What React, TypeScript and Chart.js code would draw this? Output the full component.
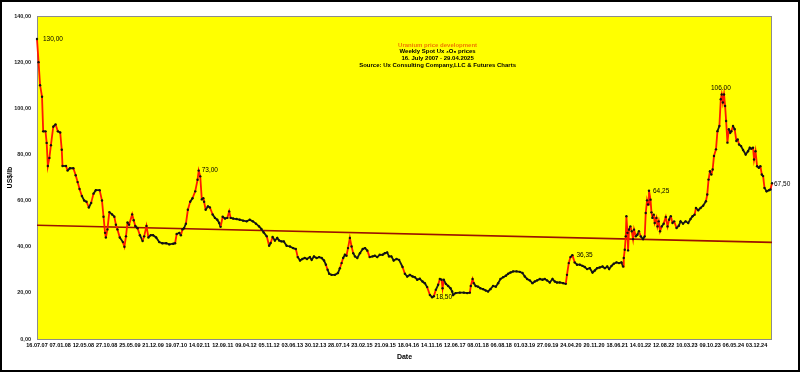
import React, { useEffect, useRef } from "react";
import { Chart, registerables } from "chart.js";

Chart.register(...registerables);

// Week index (x) and price in US$/lb (y)
const weekIdx = [
  0, 2, 4, 6.5, 8, 11, 12.5, 14, 16, 18, 21, 24, 27, 30, 32, 33, 37.5, 39.5, 42.5, 47, 50, 52.5, 55, 58, 61, 64, 67, 70, 73, 76, 81, 84, 86, 88, 89, 91, 93.5, 97, 100, 102, 104, 107, 111, 113, 115, 117, 119, 123, 125, 127, 130, 133, 136.5, 138.5, 141.5, 144, 147, 150, 154, 158, 162, 167, 171, 176, 178.5, 180.5, 184, 186, 188, 190, 192.5, 195, 198, 201, 204.5, 207.5, 209, 211, 213, 215, 216, 218, 221, 223.5, 227, 230, 233, 235.5, 237.3, 240, 243, 246, 248.4, 250.3, 253.6, 258, 262, 266.5, 271, 275, 279, 283, 287, 290, 293, 297, 300, 302, 304.5, 307.5, 310.5, 313, 316, 319, 322.6, 327, 331, 334.6, 337, 340, 343, 346, 349, 352.7, 355, 358, 361.4, 364.7, 368, 371, 373.4, 375.6, 377.6, 380.7, 385, 389, 391.5, 393.7, 395.7, 398, 400, 402, 404.4, 406.6, 408.7, 411, 414, 417.4, 421, 424, 427, 430, 433.7, 436.7, 439.7, 443, 446.7, 449.6, 452.6, 455, 458, 461, 464.7, 468, 472.5, 475.5, 478.5, 482, 485.4, 488.4, 491.4, 494.8, 498.3, 501.3, 504.3, 507.8, 510.7, 512.9, 515.5, 518.5, 520.7, 522.9, 524.2, 525.8, 528.4, 531.4, 534.5, 536.6, 537.9, 541, 546.5, 551.7, 556, 559.5, 560.7, 563, 564.6, 567, 570, 573, 576.6, 580, 583, 586, 589.5, 593, 596, 599, 602.5, 606, 609, 612, 615.4, 619.8, 624, 627.5, 630.5, 633.5, 637, 640.4, 643.4, 646.4, 650, 653.4, 656.3, 659.3, 662.8, 666.3, 669.3, 672, 675.7, 680, 683.5, 685, 687.3, 689.5, 692, 695, 698, 701.6, 705, 708, 711, 714.5, 718, 721, 724, 727.4, 731, 734, 737, 739.5, 742.6, 745.5, 749, 752.3, 755.4, 757.5, 758.4, 759.7, 761, 761.8, 763.2, 764, 765.2, 767, 768.7, 770.4, 771.7, 774, 776, 778, 780.4, 783.3, 785.5, 786.8, 788.5, 789.8, 791, 793, 794.2, 795.5, 797.2, 798.4, 800.6, 802, 803.6, 805.3, 807.5, 810, 812.7, 815, 817, 819.2, 821.4, 823.5, 826.6, 829.6, 831.8, 835, 838.3, 841.7, 844.7, 847.3, 850, 851.7, 854.6, 857.7, 861, 864.6, 866.3, 868, 869.8, 871.6, 873.3, 875, 877.6, 879.5, 882, 883.8, 885, 886.5, 888, 889.4, 890.7, 892.4, 894.2, 896, 897.5, 899.6, 901.8, 904, 905.7, 907.4, 910, 912.6, 916, 919, 921.3, 923.4, 925.5, 926.8, 928.7, 930.7, 933, 935, 936.8, 938.5, 940.3, 943, 946, 948, 950
];
const price = [
  130, 120, 110, 105, 90, 90, 85, 75, 78.5, 84, 92, 93, 90, 89.5, 82, 75, 75, 73, 74, 74, 71, 68, 65, 62, 60, 59.5, 57, 59, 63, 64.5, 64.5, 60, 53, 46, 44, 47.5, 55, 54, 53, 49.5, 47.5, 44, 42, 40, 44.5, 50.5, 49.5, 54, 51.5, 49, 48, 45, 42.5, 44.5, 49, 44, 45, 45, 44, 42, 41.5, 41.5, 41, 41.3, 41.5, 45.5, 46, 45, 47.5, 48, 50, 56, 59.5, 61, 64, 69, 73, 70.5, 60.5, 61, 59.5, 56, 57.5, 57, 54, 52.5, 51.7, 50.3, 48.6, 53, 52.2, 52.5, 55.3, 52.5, 52.2, 52, 51.7, 51.3, 51, 51.7, 51, 50, 48.8, 47.7, 46.2, 44.5, 40.4, 41.6, 44.2, 42.7, 43.8, 42.7, 42.3, 42.3, 40.4, 40.1, 39.4, 39, 35.5, 34, 34.7, 35.1, 34.7, 35.5, 34.3, 35.8, 35.1, 35.5, 35.1, 34, 32.2, 30, 28.3, 27.8, 27.8, 28.6, 30.7, 32.9, 35.1, 36.5, 36.1, 39.4, 43.8, 40.1, 37.2, 35.8, 35.1, 37.2, 39, 39.4, 38.3, 35.5, 35.8, 36.1, 35.5, 36.5, 36.5, 37.2, 37.5, 35.8, 35.8, 34, 34.7, 34.3, 31.2, 28.3, 27.1, 27.8, 27.1, 26.8, 25.7, 26.1, 24.9, 24.2, 22.5, 19.1, 18.1, 18.5, 21.3, 23.5, 26, 25.7, 22, 25.7, 23.9, 23, 22, 20.6, 19.1, 19.9, 20.1, 20.1, 19.9, 20.1, 23, 26, 24.2, 23, 22.7, 22, 21.6, 21, 20.6, 21.6, 23, 22.7, 24.2, 26, 26.8, 27.4, 28.3, 28.8, 29.3, 29.3, 29.1, 28.6, 27.1, 26, 25.4, 24.2, 24.9, 25.4, 26, 25.7, 26, 25.4, 24.5, 26, 24.9, 24.5, 24.5, 24.2, 23.9, 27.8, 32.9, 35.5, 36.35, 33.2, 32.2, 32.2, 31.7, 31.2, 30.3, 30.7, 28.8, 29.7, 30.7, 31, 31.4, 30.7, 31.4, 30.3, 31.7, 32.6, 33.2, 32.9, 33.2, 31.4, 35.1, 38.7, 44.5, 53.2, 46, 38.4, 47.4, 48.8, 46.7, 43.3, 47.4, 44.5, 45.2, 46.7, 44.5, 43.3, 44.5, 54.6, 60.1, 58.3, 64.25, 60.4, 54.9, 52.5, 53.9, 50.3, 52.5, 48.8, 51, 46.7, 48.8, 50, 52.9, 48.8, 51.7, 53.2, 50.3, 51, 48.1, 49.1, 51, 50, 51, 50.3, 52, 53.2, 53.9, 56.8, 55.8, 56.8, 57.8, 59.7, 62.6, 69.1, 72.7, 71.3, 73.5, 79.3, 82.2, 90.1, 92.3, 103.9, 106, 102.5, 106, 101, 94.5, 85.1, 90.9, 89.4, 90.1, 92.3, 90.9, 85.8, 86.5, 84.3, 83.6, 81.9, 80, 81.4, 82.9, 82.5, 82.9, 77.8, 81.4, 74.9, 74.2, 74.9, 71.3, 70.6, 65.5, 64, 64.5, 64.8, 67.5
];

// Linear trend line end points
const trendIdx = [0, 950];
const trendVal = [49.3, 41.9];

// Category tick labels (every 30 weeks)
const tickLabels = [
  "16.07.07", "07.01.08", "12.05.08", "27.10.08", "25.05.09", "21.12.09", "19.07.10", "14.02.11",
  "12.09.11", "09.04.12", "05.11.12", "03.06.13", "30.12.13", "28.07.14", "23.02.15", "21.09.15",
  "18.04.16", "14.11.16", "12.06.17", "08.01.18", "06.08.18", "01.03.19", "27.09.19", "24.04.20",
  "20.11.20", "18.06.21", "14.01.22", "12.08.22", "10.03.23", "09.10.23", "06.05.24", "03.12.24"
];
const tickStep = 30;

// Value annotations
const annoIdx = [0, 209, 512.9, 692, 791, 886.5, 950];
const annoVal = [130, 73, 18.5, 36.35, 64.25, 106, 67.5];
const annoText = ["130,00", "73,00", "18,50", "36,35", "64,25", "106.00", "67,50"];
const annoDx = [6, 3, 2, 4, 4, -2, 2];
const annoDy = [0, 0, 1, 0, 0, -6, 1];
const annoAlign = ["left", "left", "left", "left", "left", "center", "left"];

const titleLines = [
  "Uranium price development",
  "Weekly Spot Ux \u2083O\u2088 prices",
  "16. July 2007 - 29.04.2025",
  "Source: Ux Consulting Company,LLC & Futures Charts",
];
const titleColors = ["#F07800", "#000000", "#000000", "#000000"];

const FONT = "'Liberation Sans', Arial, sans-serif";

const decorPlugin = {
  id: "decor",
  beforeDatasetsDraw(chart: any) {
    const { ctx, chartArea } = chart;
    ctx.save();
    ctx.fillStyle = "#FFFF00";
    ctx.fillRect(chartArea.left, chartArea.top, chartArea.right - chartArea.left, chartArea.bottom - chartArea.top);
    ctx.strokeStyle = "#8c8c8c";
    ctx.lineWidth = 1;
    ctx.strokeRect(chartArea.left + 0.5, chartArea.top + 0.5, chartArea.right - chartArea.left - 1, chartArea.bottom - chartArea.top);
    ctx.font = `bold 6px ${FONT}`;
    ctx.textAlign = "center";
    ctx.textBaseline = "middle";
    const cx = chartArea.left + (chartArea.right - chartArea.left) * 0.545;
    titleLines.forEach((t, i) => {
      ctx.fillStyle = titleColors[i];
      ctx.fillText(t, cx, 45 + i * 6.7);
    });
    ctx.restore();
  },
  afterDraw(chart: any) {
    const { ctx } = chart;
    const xs = chart.scales.x;
    const ys = chart.scales.y;
    ctx.save();
    ctx.font = `6.5px ${FONT}`;
    ctx.fillStyle = "#000";
    ctx.textBaseline = "middle";
    annoText.forEach((t, i) => {
      ctx.textAlign = annoAlign[i];
      const px = xs.getPixelForValue(annoIdx[i]) + annoDx[i];
      const py = ys.getPixelForValue(annoVal[i]) + annoDy[i];
      ctx.fillText(t, px, py);
    });
    ctx.strokeStyle = "#000";
    ctx.lineWidth = 2;
    ctx.strokeRect(1, 1, chart.width - 2, chart.height - 2);
    ctx.restore();
  },
};

export default function App() {
  const ref = useRef<HTMLCanvasElement>(null);
  useEffect(() => {
    if (!ref.current) return;
    Chart.defaults.font.family = FONT;
    const chart = new Chart(ref.current, {
      type: "line",
      data: {
        datasets: [
          {
            label: "Trend",
            data: trendIdx.map((x, i) => ({ x, y: trendVal[i] })),
            borderColor: "#9a1200",
            borderWidth: 1.6,
            pointRadius: 0,
            order: 2,
          },
          {
            label: "Price",
            data: weekIdx.map((x, i) => ({ x, y: price[i] })),
            borderColor: "#FF1a00",
            borderWidth: 1.8,
            segment: {
              borderColor: (c: any) => {
                const dx = Math.abs(c.p1.x - c.p0.x);
                const dy = Math.abs(c.p1.y - c.p0.y);
                return dy > dx * 1.6 + 2 ? "#FF1a00" : "#1a1a1a";
              },
            },
            pointRadius: 1.2,
            pointBackgroundColor: "#111",
            pointBorderWidth: 0,
            clip: false as any,
            order: 1,
          },
        ],
      },
      options: {
        animation: false,
        responsive: false,
        maintainAspectRatio: false,
        layout: { padding: { left: 0, top: 16, right: 28, bottom: 0 } },
        plugins: { legend: { display: false }, tooltip: { enabled: false } },
        scales: {
          x: {
            type: "linear",
            min: 0,
            max: 950,
            grid: { display: false, drawTicks: false },
            border: { display: false },
            afterBuildTicks: (scale: any) => {
              scale.ticks = tickLabels.map((_, i) => ({ value: i * tickStep }));
            },
            afterFit: (scale: any) => {
              scale.height = 33;
            },
            ticks: {
              autoSkip: false,
              maxRotation: 0,
              minRotation: 0,
              padding: 3,
              color: "#000",
              font: { size: 5.5, weight: "bold" },
              callback: (v: any) => tickLabels[Math.round(Number(v) / tickStep)] ?? "",
            },
            title: {
              display: true,
              text: "Date",
              color: "#000",
              font: { size: 7, weight: "bold" },
              padding: { top: 0, bottom: 11 },
            },
          },
          y: {
            min: 0,
            max: 140,
            grid: { display: false, drawTicks: false },
            border: { display: false },
            afterFit: (scale: any) => {
              scale.width = 37;
            },
            ticks: {
              stepSize: 20,
              padding: 6,
              color: "#222",
              font: { size: 5.5, weight: "bold" },
              callback: (v: any) => Number(v).toFixed(2).replace(".", ","),
            },
            title: {
              display: true,
              text: "US$/lb",
              color: "#000",
              font: { size: 7, weight: "bold" },
              padding: { top: 6, bottom: 0 },
            },
          },
        },
      },
      plugins: [decorPlugin],
    });
    return () => chart.destroy();
  }, []);
  return (
    <div style={{ position: "fixed", left: 0, top: 0, width: 800, height: 372, background: "#fff" }}>
      <canvas ref={ref} width={800} height={372} style={{ width: 800, height: 372, display: "block" }} />
    </div>
  );
}
